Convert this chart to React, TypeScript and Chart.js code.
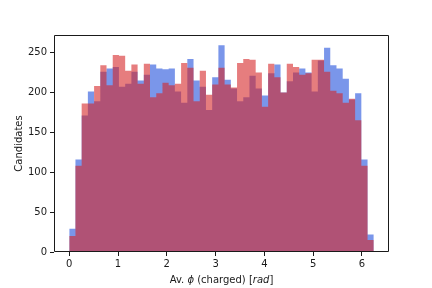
import React, { useEffect, useRef } from "react";
import { Chart, registerables } from "chart.js";

Chart.register(...registerables);

// Histogram: 49 bins from 0 to ~6.2435 rad
const binCount = 49;
const rangeMin = 0;
const rangeMax = 6.2435;

const blueCounts = [
  29, 116, 171, 201, 189, 226, 230, 232, 207, 211,
  226, 215, 222, 235, 230, 229, 230, 201, 187, 242,
  215, 207, 178, 219, 259, 216, 205, 189, 194, 221,
  205, 196, 224, 235, 200, 214, 225, 230, 225, 201,
  240, 256, 234, 230, 217, 191, 199, 116, 22,
];

const redCounts = [
  20, 108, 186, 186, 208, 234, 209, 247, 246, 227,
  235, 211, 236, 194, 199, 212, 209, 211, 237, 231,
  189, 227, 197, 210, 231, 210, 206, 237, 242, 241,
  225, 182, 236, 219, 200, 236, 232, 222, 224, 241,
  241, 226, 202, 199, 187, 192, 165, 108, 15,
];

const xTickValues = [0, 1, 2, 3, 4, 5, 6];
const yTickValues = [0, 50, 100, 150, 200, 250];
const yLabel = "Candidates";

const FONT = "'DejaVu Sans', 'Liberation Sans', sans-serif";

// histogram outline as stepped points at bin edges (value holds until next edge)
function stepPoints(counts: number[]) {
  const w = (rangeMax - rangeMin) / binCount;
  const pts = counts.map((c, i) => ({ x: rangeMin + i * w, y: c }));
  pts.push({ x: rangeMax, y: 0 });
  return pts;
}

export default function App() {
  const ref = useRef<HTMLCanvasElement | null>(null);

  useEffect(() => {
    const canvas = ref.current;
    if (!canvas) return;
    const span = rangeMax - rangeMin;
    const xMin = rangeMin - 0.05 * span;
    const xMax = rangeMax + 0.05 * span;
    const yMax = Math.max(...blueCounts, ...redCounts) * 1.05;

    const framePlugin = {
      id: "frame",
      afterDraw(chart: any) {
        const { ctx, chartArea } = chart;
        const { left, top, right, bottom } = chartArea;
        ctx.save();
        ctx.strokeStyle = "#1a1a1a";
        ctx.lineWidth = 1;
        ctx.beginPath();
        ctx.moveTo(left + 0.5, bottom - 0.5);
        ctx.lineTo(left + 0.5, top + 0.5);
        ctx.lineTo(right - 0.5, top + 0.5);
        ctx.lineTo(right - 0.5, bottom - 0.5);
        ctx.closePath();
        ctx.stroke();

        // x axis title with italic math parts
        const parts: [string, boolean][] = [
          ["Av. ", false],
          ["\u03D5", true],
          [" (charged) [", false],
          ["rad", true],
          ["]", false],
        ];
        const normal = `10px ${FONT}`;
        const italic = `italic 10px ${FONT}`;
        let total = 0;
        const widths = parts.map(([t, it]) => {
          ctx.font = it ? italic : normal;
          const w = ctx.measureText(t).width;
          total += w;
          return w;
        });
        let x = (left + right) / 2 - total / 2;
        ctx.fillStyle = "#1a1a1a";
        ctx.textBaseline = "middle";
        ctx.textAlign = "left";
        parts.forEach(([t, it], i) => {
          ctx.font = it ? italic : normal;
          ctx.fillText(t, x, 280);
          x += widths[i];
        });
        ctx.restore();
      },
    };

    const common = {
      stepped: "before",
      fill: "origin",
      borderWidth: 0,
      borderColor: "rgba(0,0,0,0)",
      pointRadius: 0,
      pointHoverRadius: 0,
      tension: 0,
    };

    const chart = new Chart(canvas, {
      type: "line",
      data: {
        datasets: [
          {
            ...common,
            label: "blue",
            data: stepPoints(blueCounts),
            backgroundColor: "rgba(65,105,225,0.7)",
            order: 2,
          } as any,
          {
            ...common,
            label: "red",
            data: stepPoints(redCounts),
            backgroundColor: "rgba(214,39,40,0.6)",
            order: 1,
          } as any,
        ],
      },
      options: {
        responsive: false,
        animation: false,
        devicePixelRatio: 1,
        layout: { padding: { left: 0, top: 35, right: 43, bottom: 0 } },
        plugins: {
          legend: { display: false },
          tooltip: { enabled: false },
        },
        scales: {
          x: {
            type: "linear",
            min: xMin,
            max: xMax,
            offset: false,
            afterBuildTicks: (scale: any) => {
              scale.ticks = xTickValues.map((v) => ({ value: v }));
            },
            afterFit: (scale: any) => {
              scale.height = 36;
            },
            grid: {
              display: true,
              offset: false,
              drawOnChartArea: false,
              drawTicks: true,
              tickLength: 4,
              color: "#1a1a1a",
            },
            border: { display: false },
            ticks: {
              color: "#1a1a1a",
              font: { family: FONT, size: 10 },
              padding: 2,
              maxRotation: 0,
              autoSkip: false,
              callback: (v: any) => String(v),
            },
          },
          y: {
            type: "linear",
            min: 0,
            max: yMax,
            afterBuildTicks: (scale: any) => {
              scale.ticks = yTickValues.map((v) => ({ value: v }));
            },
            afterFit: (scale: any) => {
              scale.width = 54;
            },
            grid: {
              display: true,
              offset: false,
              drawOnChartArea: false,
              drawTicks: true,
              tickLength: 4,
              color: "#1a1a1a",
            },
            border: { display: false },
            ticks: {
              color: "#1a1a1a",
              font: { family: FONT, size: 10 },
              padding: 3,
              autoSkip: false,
              callback: (v: any) => String(v),
            },
            title: {
              display: true,
              text: yLabel,
              color: "#1a1a1a",
              font: { family: FONT, size: 10 },
              padding: { top: 13, bottom: 0 },
            },
          },
        },
      },
      plugins: [framePlugin],
    } as any);

    return () => chart.destroy();
  }, []);

  return (
    <div style={{ position: "absolute", left: 0, top: 0, width: 432, height: 288, background: "#fff" }}>
      <canvas ref={ref} width={432} height={288} style={{ display: "block", width: 432, height: 288 }} />
    </div>
  );
}
